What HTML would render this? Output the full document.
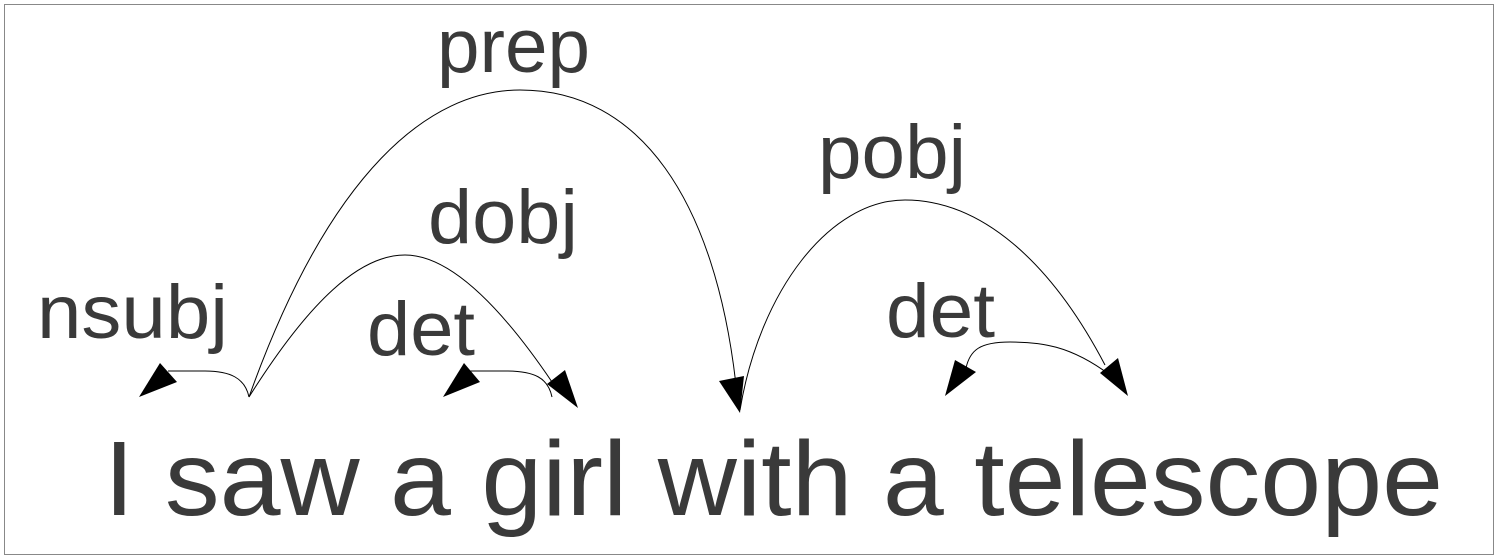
<!DOCTYPE html>
<html><head><meta charset="utf-8"><style>
html,body{margin:0;padding:0;background:#fff;}
svg{display:block;}
text{font-family:"Liberation Sans",sans-serif;fill:#3a3a3a;}
</style></head><body>
<svg width="1499" height="559" viewBox="0 0 1499 559" xmlns="http://www.w3.org/2000/svg">
<rect x="4.5" y="4.5" width="1489" height="550" fill="#fff" stroke="#888" stroke-width="1"/>
<g fill="none" stroke="#000" stroke-width="1">
<path d="M249,397 C245,378 230,371 205,371 L168,371"/>
<path d="M249,397 C330,170 430,90 520,90 C640,90 715,200 736,385"/>
<path d="M249,397 C310,300 360,255 405,255 C455,255 510,320 552,382"/>
<path d="M552,397 C548,378 535,371 505,371 L470,371"/>
<path d="M740,410 C760,290 830,200 905,200 C980,200 1050,260 1105,365"/>
<path d="M1110,375 C1070,345 1040,342 1010,342 C980,342 970,350 966,368"/>
</g>
<g fill="#000">
<polygon points="139,397 160,363 177,382"/>
<polygon points="443,397 464,363 480,382"/>
<polygon points="578,408 547,384 565,370"/>
<polygon points="740,413 719,381 744,376"/>
<polygon points="1128,396 1100,373 1118,358"/>
<polygon points="945,396 955,360 976,372"/>
</g>
<text x="437" y="72" font-size="76" textLength="153" lengthAdjust="spacingAndGlyphs">prep</text>
<text x="428" y="243" font-size="76" textLength="150" lengthAdjust="spacingAndGlyphs">dobj</text>
<text x="37" y="338" font-size="76" textLength="191" lengthAdjust="spacingAndGlyphs">nsubj</text>
<text x="367" y="355" font-size="76" textLength="108" lengthAdjust="spacingAndGlyphs">det</text>
<text x="818" y="178" font-size="76" textLength="148" lengthAdjust="spacingAndGlyphs">pobj</text>
<text x="886" y="337" font-size="76" textLength="109" lengthAdjust="spacingAndGlyphs">det</text>
<text x="104" y="515" font-size="106" textLength="1339" lengthAdjust="spacingAndGlyphs">I saw a girl with a telescope</text>
</svg>
</body></html>
